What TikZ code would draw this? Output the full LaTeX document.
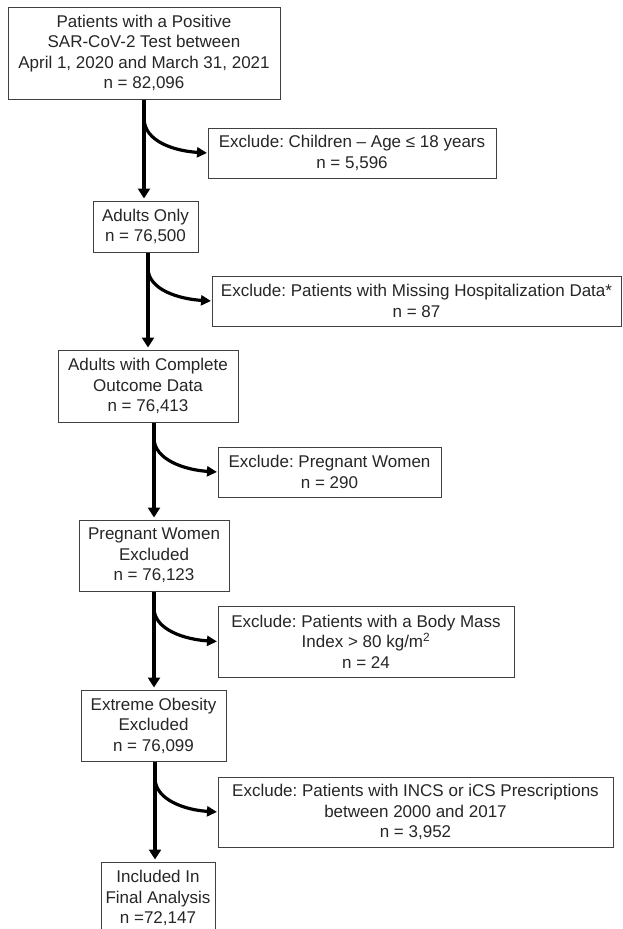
\documentclass[tikz,border=0pt]{standalone}
\usepackage{fontspec}
\setmainfont{Liberation Sans}
\usetikzlibrary{arrows.meta}
\frenchspacing
\begin{document}
\begin{tikzpicture}[x=1pt,y=-1pt,
  box/.style={draw=black!75, line width=1pt, align=center, inner sep=0pt,
    font=\fontsize{17}{20.5}\selectfont\frenchspacing, text=black!85},
  trunk/.style={line width=3.8pt, -{Triangle[length=10pt,width=12pt]}, shorten >=2pt},
  side/.style={line width=3.2pt, -{Triangle[length=10pt,width=10pt]}, shorten >=0.5pt}]
\useasboundingbox (0,0) rectangle (622,929);
\fill[white] (0,0) rectangle (622,929);

% main boxes
\node[box, minimum width=272pt, minimum height=92pt] (b1) at (144,53)
  {Patients with a Positive\\SAR-CoV-2 Test between\\April 1, 2020 and March 31, 2021\\n = 82,096};
\node[box, minimum width=105pt, minimum height=51pt] (b2) at (145.5,226.5)
  {Adults Only\\n = 76,500};
\node[box, minimum width=180pt, minimum height=72pt] (b3) at (148,386)
  {Adults with Complete\\Outcome Data\\n = 76,413};
\node[box, minimum width=150pt, minimum height=71pt] (b4) at (154,555.5)
  {Pregnant Women\\Excluded\\n = 76,123};
\node[box, minimum width=145pt, minimum height=71pt] (b5) at (153.5,725.5)
  {Extreme Obesity\\Excluded\\n = 76,099};
\node[box, minimum width=114pt, minimum height=72pt] (b6) at (158,898)
  {Included In\\Final Analysis\\n =72,147};

% exclusion boxes
\node[box, minimum width=288pt, minimum height=50pt] (e1) at (352,153)
  {Exclude: Children -- Age ≤ 18 years\\n = 5,596};
\node[box, minimum width=409pt, minimum height=50pt] (e2) at (416.5,301)
  {Exclude: Patients with Missing Hospitalization Data*\\n = 87};
\node[box, minimum width=223pt, minimum height=50pt] (e3) at (329.5,472)
  {Exclude: Pregnant Women\\n = 290};
\node[box, minimum width=296pt, minimum height=71pt] (e4) at (366,641.5)
  {Exclude: Patients with a Body Mass\\Index > 80 kg/m\textsuperscript{2}\\n = 24};
\node[box, minimum width=395pt, minimum height=70pt] (e5) at (415.5,812)
  {Exclude: Patients with INCS or iCS Prescriptions\\between 2000 and 2017\\n = 3,952};

% trunk x positions and branch points
\coordinate (t1) at (144,0);
\coordinate (t2) at (148,0);
\coordinate (t3) at (154,0);
\coordinate (t4) at (154,0);
\coordinate (t5) at (155,0);
\coordinate (c1) at (144,118);
\coordinate (c2) at (148,268);
\coordinate (c3) at (154,438);
\coordinate (c4) at (154,608);
\coordinate (c5) at (155,778);

\draw[trunk] (b1.south -| t1) -- (b2.north -| t1);
\draw[trunk] (b2.south -| t2) -- (b3.north -| t2);
\draw[trunk] (b3.south -| t3) -- (b4.north -| t3);
\draw[trunk] (b4.south -| t4) -- (b5.north -| t4);
\draw[trunk] (b5.south -| t5) -- (b6.north -| t5);

\draw[side] (c1) .. controls +(0,24) and +(-32,-2) .. (e1.west);
\draw[side] (c2) .. controls +(0,22) and +(-32,-2) .. (e2.west);
\draw[side] (c3) .. controls +(0,22) and +(-32,-2) .. (e3.west);
\draw[side] (c4) .. controls +(0,22) and +(-32,-2) .. (e4.west);
\draw[side] (c5) .. controls +(0,22) and +(-32,-2) .. (e5.west);
\end{tikzpicture}
\end{document}
